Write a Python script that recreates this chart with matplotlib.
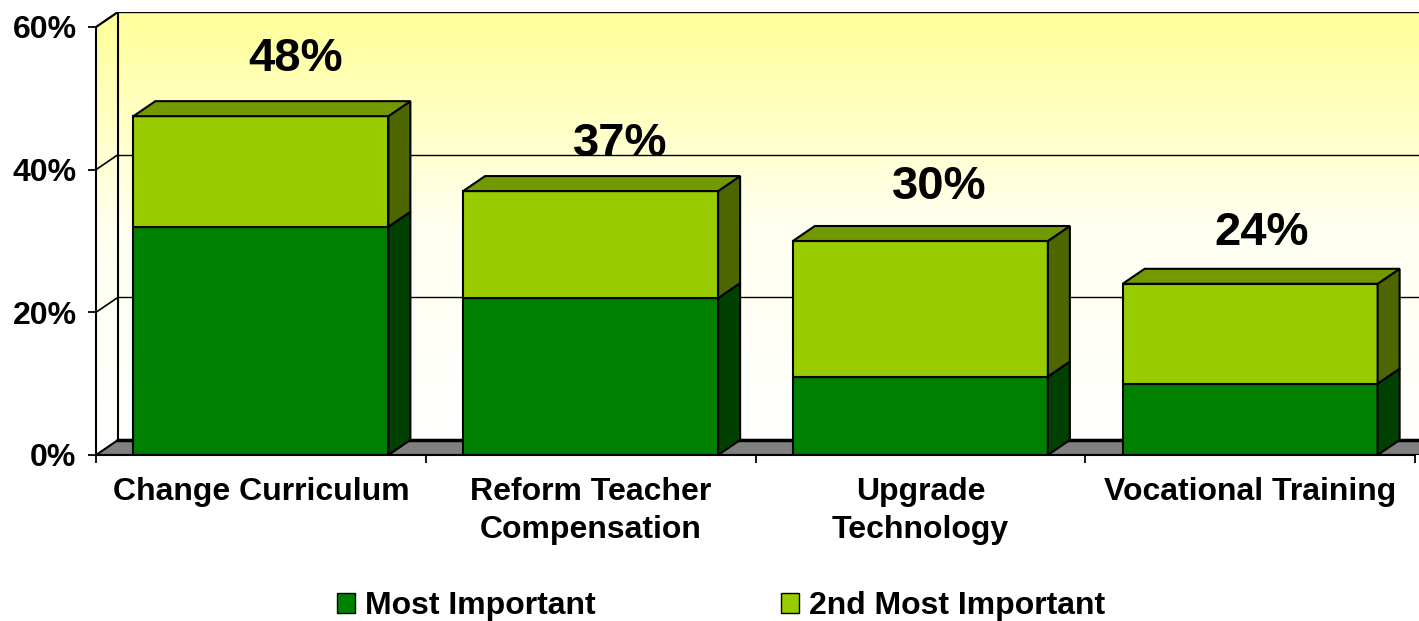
import matplotlib
matplotlib.use('Agg')
import matplotlib.pyplot as plt
import numpy as np
from matplotlib.patches import Polygon, Patch, Rectangle
from matplotlib.colors import LinearSegmentedColormap

# ---------------- data ----------------
categories = ['Change Curriculum', 'Reform Teacher\nCompensation', 'Upgrade\nTechnology', 'Vocational Training']
most_important = [32, 22, 11, 10]
second_most = [15.5, 15, 19, 14]
total_labels = ['48%', '37%', '30%', '24%']
yticks = [0, 20, 40, 60]
ytick_labels = ['0%', '20%', '40%', '60%']
series_names = ['Most Important', '2nd Most Important']

# ---------------- style ----------------
plt.rcParams['font.family'] = ['Liberation Sans', 'DejaVu Sans']
plt.rcParams['font.weight'] = 'bold'

front_colors = ['#008000', '#99CC00']
side_colors = ['#004000', '#4D6600']
top_colors = ['#006000', '#739900']

W, H = 1419, 621
fig = plt.figure(figsize=(W / 100, H / 100), dpi=100)

# layout in pixels
x0_px, x4_px = 96, 1415
y0_px, y60_px = 455, 27
ddx_px, ddy_px = 22, 15
ux = (x4_px - x0_px) / 4.0
uy = (y0_px - y60_px) / 60.0
DX = ddx_px / ux
DY = ddy_px / uy
ymax = 60
xmin, xmax = -0.5, 3.5
bar_w = 255 / ux

ax = fig.add_axes([x0_px / W, (H - y0_px) / H,
                   (x4_px + ddx_px - x0_px) / W,
                   (y0_px - (y60_px - ddy_px)) / H])
ax.set_xlim(xmin, xmax + DX)
ax.set_ylim(0, ymax + DY)
ax.patch.set_visible(False)

# ---------------- walls ----------------
cmap = LinearSegmentedColormap.from_list('wall', ['#FFFFFF', '#FFFFF0', '#FFFF99'])
grad = np.linspace(0, 1, 256).reshape(-1, 1)
ax.imshow(grad, extent=[xmin + DX, xmax + DX + 0.2, DY, ymax + DY], origin='lower',
          cmap=cmap, aspect='auto', zorder=0)
side = Polygon([(xmin, 0), (xmin + DX, DY), (xmin + DX, ymax + DY), (xmin, ymax)],
               closed=True, facecolor='none', edgecolor='none')
ax.add_patch(side)
im2 = ax.imshow(grad, extent=[xmin, xmin + DX, 0, ymax + DY], origin='lower',
                cmap=cmap, aspect='auto', zorder=0)
im2.set_clip_path(side)

# gridlines on back wall and side wall
for v in yticks[1:]:
    ax.plot([xmin + DX, xmax + DX + 0.2], [v + DY, v + DY], color='black', lw=1.0, zorder=1)
    ax.plot([xmin, xmin + DX], [v, v + DY], color='black', lw=1.2, zorder=1)
ax.plot([xmin + DX, xmin + DX], [DY, ymax + DY], color='black', lw=1.5, zorder=1)
ax.plot([xmin, xmin + DX], [ymax, ymax + DY], color='black', lw=1.5, zorder=1)

# floor
floor = Polygon([(xmin, 0), (xmin + DX, DY), (xmax + DX + 0.2, DY), (xmax + 0.2, 0)],
                closed=True, facecolor='#808080', edgecolor='black', lw=1.5, zorder=1)
ax.add_patch(floor)
ax.plot([xmin + DX, xmax + DX + 0.2], [DY, DY], color='black', lw=2.5, zorder=1)

# ---------------- data labels (behind bars, cut at the wall gridline below) ----------------
label_dx_px = [35, 30, 19, 12]
label_dy_px = [57, 47, 54, 51]
x = np.arange(len(categories))
totals = [a + b for a, b in zip(most_important, second_most)]
for i, (t, lab) in enumerate(zip(totals, total_labels)):
    ly = t + label_dy_px[i] / uy
    txt = ax.text(x[i] + label_dx_px[i] / ux, ly, lab, ha='center', va='center',
                  fontsize=34, fontweight='bold', zorder=2)
    below = [g + DY for g in yticks if g + DY < ly]
    floor_y = max(below) if below else 0
    clip = Rectangle((x[i] - 0.5, floor_y), 1.0, ymax + DY - floor_y + 10,
                     transform=ax.transData, facecolor='none', edgecolor='none')
    txt.set_clip_path(clip)

# ---------------- bars ----------------
bottoms = [0] * len(categories)
for s, vals in enumerate([most_important, second_most]):
    ax.bar(x, vals, width=bar_w, bottom=bottoms, color=front_colors[s],
           edgecolor='black', lw=1.5, zorder=3)
    for i in range(len(categories)):
        b = bottoms[i]
        h = vals[i]
        r = x[i] + bar_w / 2
        l = x[i] - bar_w / 2
        ax.add_patch(Polygon([(r, b), (r + DX, b + DY), (r + DX, b + h + DY), (r, b + h)],
                             closed=True, facecolor=side_colors[s], edgecolor='black',
                             lw=1.5, zorder=3))
        ax.add_patch(Polygon([(l, b + h), (l + DX, b + h + DY), (r + DX, b + h + DY), (r, b + h)],
                             closed=True, facecolor=top_colors[s], edgecolor='black',
                             lw=1.5, zorder=3 + s))
    bottoms = [bb + v for bb, v in zip(bottoms, vals)]

# ---------------- axes ----------------
for sp in ['top', 'right']:
    ax.spines[sp].set_visible(False)
ax.spines['left'].set_bounds(0, ymax)
ax.spines['bottom'].set_bounds(xmin, xmax)
ax.spines['left'].set_linewidth(1.5)
ax.spines['bottom'].set_linewidth(1.5)
ax.spines['left'].set_zorder(5)
ax.spines['bottom'].set_zorder(5)

ax.set_yticks(yticks, ytick_labels)
ax.tick_params(axis='y', length=6, width=1.3, pad=8, labelsize=23)
ax.set_xticks(x, categories)
ax.set_xticks(np.arange(xmin, xmax + 0.01, 1.0), minor=True)
ax.tick_params(axis='x', which='major', length=0, pad=16, labelsize=23)
ax.tick_params(axis='x', which='minor', length=6, width=1.3)
for t in ax.get_xticklabels():
    t.set_linespacing(1.33)
    t.set_fontweight('bold')
for t in ax.get_yticklabels():
    t.set_fontweight('bold')

# ---------------- legend ----------------
handles = [Patch(facecolor=front_colors[i], edgecolor='black', lw=1.0, label=series_names[i])
           for i in range(2)]
fig.legend(handles=handles, loc='center', bbox_to_anchor=(721 / W, 1 - 606 / H), ncol=2,
           frameon=False, prop={'size': 23, 'weight': 'bold'}, handlelength=0.58,
           handleheight=0.58, handletextpad=0.3, columnspacing=5.8)

fig.savefig('out.png', dpi=100)
